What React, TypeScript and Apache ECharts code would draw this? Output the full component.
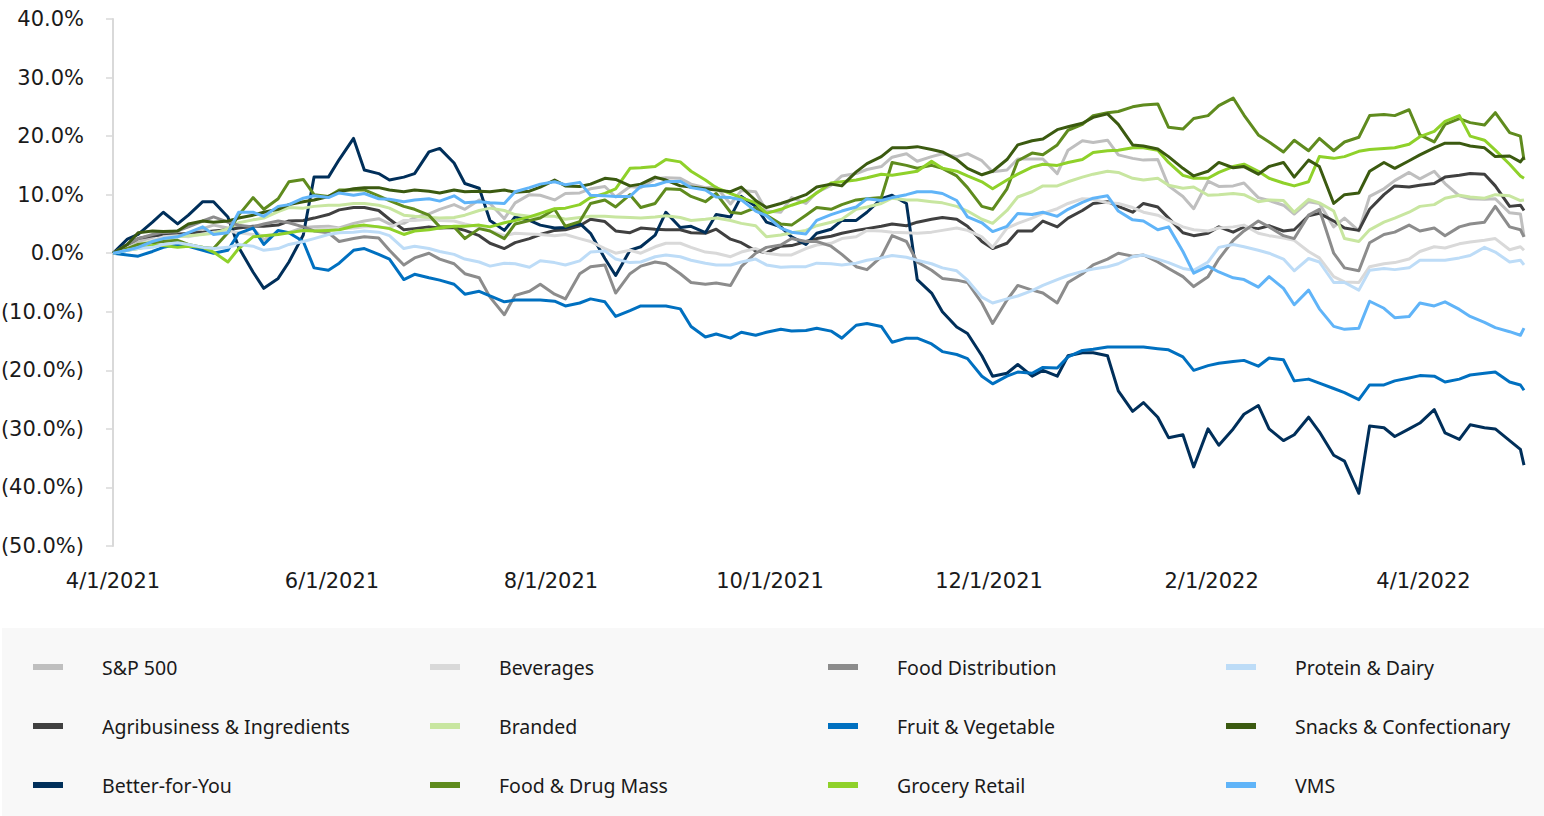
import React, { useEffect, useRef } from "react";
import * as echarts from "echarts";

// Sample dates (Mondays/Thursdays) from 4/1/2021 to 4/29/2022
const dates = [
  "2021-04-01","2021-04-05","2021-04-08","2021-04-12","2021-04-15","2021-04-19","2021-04-22","2021-04-26","2021-04-29",
  "2021-05-03","2021-05-06","2021-05-10","2021-05-13","2021-05-17","2021-05-20","2021-05-24","2021-05-27","2021-05-31",
  "2021-06-03","2021-06-07","2021-06-10","2021-06-14","2021-06-17","2021-06-21","2021-06-24","2021-06-28",
  "2021-07-01","2021-07-05","2021-07-08","2021-07-12","2021-07-15","2021-07-19","2021-07-22","2021-07-26","2021-07-29",
  "2021-08-02","2021-08-05","2021-08-09","2021-08-12","2021-08-16","2021-08-19","2021-08-23","2021-08-26","2021-08-30",
  "2021-09-02","2021-09-06","2021-09-09","2021-09-13","2021-09-16","2021-09-20","2021-09-23","2021-09-27","2021-09-30",
  "2021-10-04","2021-10-07","2021-10-11","2021-10-14","2021-10-18","2021-10-21","2021-10-25","2021-10-28",
  "2021-11-01","2021-11-04","2021-11-08","2021-11-11","2021-11-15","2021-11-18","2021-11-22","2021-11-25","2021-11-29",
  "2021-12-02","2021-12-06","2021-12-09","2021-12-13","2021-12-16","2021-12-20","2021-12-23","2021-12-27","2021-12-30",
  "2022-01-03","2022-01-06","2022-01-10","2022-01-13","2022-01-17","2022-01-20","2022-01-24","2022-01-27","2022-01-31",
  "2022-02-03","2022-02-07","2022-02-10","2022-02-14","2022-02-17","2022-02-21","2022-02-24","2022-02-28",
  "2022-03-03","2022-03-07","2022-03-10","2022-03-14","2022-03-17","2022-03-21","2022-03-24","2022-03-28","2022-03-31",
  "2022-04-04","2022-04-07","2022-04-11","2022-04-14","2022-04-18","2022-04-21","2022-04-25","2022-04-28","2022-04-29",
];

const tickDates = ["2021-04-01","2021-06-01","2021-08-01","2021-10-01","2021-12-01","2022-02-01","2022-04-01"];

const sp500 = [
  0,1.4,1.9,2.7,3.7,3.6,2.9,4.2,4.8,
  4.3,4.5,4.2,2.3,3.6,3.5,4.4,4.5,4.6,
  4.3,5.1,5.5,5.9,5.0,5.1,6.1,6.7,
  7.5,8.3,7.5,9.1,8.5,5.9,8.6,10.0,9.9,
  9.1,10.2,10.3,11.0,11.4,9.6,11.4,11.2,12.7,
  12.9,12.8,11.8,11.2,11.3,8.4,10.7,10.5,7.2,
  7.0,9.5,8.5,10.4,11.6,13.2,13.6,14.3,
  14.8,16.4,17.0,15.7,16.5,17.0,16.5,17.0,15.8,
  13.9,14.2,16.1,16.1,16.1,13.6,17.6,19.2,18.9,
  19.3,16.8,16.2,15.9,16.0,11.5,9.7,7.6,12.3,
  11.4,11.5,12.0,9.5,9.0,8.2,6.7,8.8,
  8.5,4.5,6.0,3.8,9.7,11.0,12.4,13.8,12.7,
  14.0,11.9,9.8,9.3,9.2,9.3,6.9,6.7,2.8,
];

const agribusiness = [
  0,1.5,2.5,3.0,3.1,3.2,3.4,3.6,3.8,
  4.0,4.3,4.6,4.6,4.8,5.5,5.6,6.0,6.6,
  7.4,7.8,7.8,7.3,5.8,4.0,4.2,4.5,
  4.3,4.4,3.9,3.0,1.7,0.8,1.8,2.5,3.2,
  3.9,4.0,4.7,5.8,5.4,3.8,3.5,4.3,4.1,
  4.0,4.0,3.5,3.4,4.1,2.4,1.8,0.4,0.1,
  1.2,1.3,2.0,2.5,2.9,3.4,3.9,4.2,
  4.6,5.0,4.7,5.3,5.8,6.1,5.8,4.6,2.0,
  0.8,1.7,3.8,3.8,5.5,4.5,6.0,7.3,8.5,
  8.8,8.0,7.0,8.5,7.9,6.0,3.5,3.0,3.4,
  4.5,3.6,4.5,4.2,4.7,3.8,4.0,6.4,
  6.8,5.5,4.3,3.9,7.5,10.0,11.5,11.3,11.6,
  11.9,13.0,13.3,13.6,13.5,11.5,8.0,8.2,7.3,
];

const betterForYou = [
  0,2.4,3.2,5.3,7.0,5.0,6.5,8.8,8.8,
  6.2,1.0,-3.2,-6.0,-4.3,-1.5,3.1,13.0,13.0,
  16.0,19.6,14.2,13.6,12.5,13.0,13.6,17.3,
  17.9,15.4,11.9,11.1,5.6,3.9,6.2,5.6,4.8,
  4.3,4.4,5.1,3.4,-0.9,-3.8,0.5,1.1,3.1,
  7.0,4.4,4.6,3.5,6.6,6.2,9.7,8.0,5.3,
  4.5,2.8,1.5,3.4,4.1,5.6,5.6,7.0,
  9.3,9.9,8.5,-4.5,-6.8,-10.0,-12.6,-13.7,-17.5,
  -21.0,-20.5,-19.0,-21.0,-20.0,-21.0,-17.5,-17.0,-17.0,
  -17.5,-23.5,-27.0,-25.5,-28.0,-31.5,-31.0,-36.5,-30.0,
  -32.8,-30.0,-27.5,-26.0,-30.0,-32.0,-31.0,-28.0,
  -30.5,-34.5,-35.5,-41.0,-29.5,-29.8,-31.3,-30.0,-29.0,
  -26.7,-30.7,-31.8,-29.3,-29.8,-30.0,-32.0,-33.5,-36.2,
];

const beverages = [
  0,1.0,1.5,2.2,2.8,3.0,2.8,3.3,3.6,
  3.8,3.5,3.2,3.0,3.3,3.6,3.8,4.0,4.2,
  4.2,4.3,4.5,4.5,4.3,5.6,5.6,5.8,
  5.6,5.5,5.0,4.5,3.8,3.0,3.4,3.3,3.2,
  3.0,3.2,2.5,2.0,0.8,0.0,0.5,0.0,1.1,
  1.7,1.7,1.0,0.2,0.0,-0.6,0.2,0.8,0.0,
  -0.3,-0.3,0.8,1.4,1.7,2.5,2.8,3.9,
  3.8,3.6,3.5,3.4,3.6,3.9,4.3,3.9,2.8,
  1.0,4.3,5.1,6.0,6.8,7.6,8.5,9.3,9.2,
  8.6,8.5,7.8,7.0,6.5,5.6,4.5,4.0,3.8,
  4.3,4.5,4.8,3.4,3.0,2.6,2.2,0.3,
  -0.8,-4.0,-4.9,-5.0,-2.3,-1.8,-1.6,-1.0,0.3,
  1.1,0.9,1.6,1.9,2.2,2.5,0.6,1.1,0.5,
];

const branded = [
  0,0.8,1.5,2.0,2.4,2.8,3.0,3.2,3.4,
  4.2,5.2,5.7,6.0,7.1,7.8,7.7,8.0,8.2,
  8.2,8.5,8.5,8.2,7.7,6.5,6.3,6.1,
  6.0,6.1,6.5,7.3,7.7,7.3,6.6,6.3,6.3,
  6.3,5.8,6.1,6.3,6.3,6.2,6.1,6.0,6.2,
  6.4,6.1,5.6,5.8,6.0,5.6,5.1,4.7,2.8,
  3.1,3.5,3.9,4.7,5.3,5.8,7.5,7.9,
  8.5,9.4,9.1,9.1,8.8,8.6,8.0,7.2,5.8,
  5.1,7.3,9.6,10.5,11.5,11.5,12.2,13.0,13.5,
  14.0,13.8,12.8,12.5,12.8,11.6,11.1,11.3,9.9,
  10.0,10.2,10.0,8.8,9.1,9.0,7.0,9.2,
  8.6,7.2,2.5,2.0,4.0,5.3,6.0,7.0,8.0,
  8.3,9.4,9.9,9.6,9.4,10.0,9.8,9.0,9.1,
];

const foodDrugMass = [
  0,0.8,1.5,1.8,2.0,2.2,1.5,1.0,0.8,
  3.5,6.5,9.5,7.5,9.3,12.2,12.6,10.0,9.7,
  10.8,10.8,10.8,9.8,9.0,8.0,7.5,6.5,
  4.5,4.5,2.5,4.2,3.8,2.5,5.0,5.6,6.0,
  7.5,4.6,5.4,8.5,9.1,7.9,10.0,7.8,8.5,
  11.0,10.9,9.7,8.8,10.2,7.0,6.8,7.8,6.5,
  5.0,4.8,6.5,7.8,7.5,8.3,9.1,9.3,
  9.5,15.5,15.0,14.5,15.0,14.5,13.2,11.2,8.0,
  7.5,11.0,15.8,17.1,16.8,18.5,21.0,22.0,23.5,
  24.0,24.2,25.0,25.3,25.5,21.5,21.2,23.0,23.5,
  25.2,26.5,23.6,20.2,19.0,17.3,19.3,17.5,
  19.6,17.5,19.0,19.8,23.5,23.7,23.5,24.5,20.2,
  19.0,22.0,23.0,22.3,21.9,24.0,20.6,20.0,15.9,
];

const foodDistribution = [
  0,1.5,2.5,3.2,3.6,3.8,4.5,5.5,6.2,
  5.3,4.8,4.5,5.0,5.5,5.2,4.5,3.8,3.5,
  2.0,2.5,2.8,2.6,0.5,-2.0,-0.8,0.0,
  -1.0,-1.8,-3.5,-4.2,-7.5,-10.5,-7.2,-6.5,-5.3,
  -7.0,-7.8,-3.5,-2.3,-2.0,-6.8,-3.5,-2.2,-1.5,
  -1.8,-3.5,-5.0,-5.3,-5.1,-5.5,-2.3,0.0,1.0,
  1.4,2.5,2.0,2.0,1.2,-0.2,-2.3,-2.8,
  -0.6,3.0,2.0,-1.5,-2.9,-4.3,-4.6,-5.0,-8.5,
  -12.0,-8.0,-5.5,-6.3,-6.8,-8.5,-5.0,-3.5,-2.0,
  -1.0,0.0,-0.5,-0.3,-1.5,-2.6,-4.0,-5.7,-4.0,
  -1.0,2.2,3.8,5.5,4.5,3.0,2.5,6.5,
  7.5,0.0,-2.5,-3.0,1.8,3.2,3.6,4.8,3.8,
  4.3,3.0,4.5,5.0,5.3,8.0,4.5,4.0,2.8,
];

const fruitVegetable = [
  0,-0.3,-0.5,0.3,1.0,1.5,1.2,0.5,0.0,
  0.5,3.4,4.3,1.5,3.9,3.5,2.0,-2.5,-2.9,
  -1.7,0.5,0.8,-0.2,-1.0,-4.5,-3.6,-4.2,
  -4.6,-5.3,-7.0,-6.5,-7.3,-8.3,-8.0,-8.0,-8.0,
  -8.2,-9.0,-8.5,-7.8,-8.3,-10.8,-9.8,-9.0,-9.0,
  -9.0,-9.5,-12.5,-14.3,-13.8,-14.5,-13.5,-14.0,-13.5,
  -13.0,-13.3,-13.2,-12.8,-13.3,-14.5,-12.3,-12.0,
  -12.5,-15.2,-14.5,-14.5,-15.5,-16.8,-17.3,-18.0,-21.0,
  -22.3,-21.0,-20.3,-20.5,-19.5,-19.6,-17.7,-16.6,-16.4,
  -16.0,-16.0,-16.0,-16.0,-16.3,-16.5,-17.7,-20.0,-19.2,
  -18.8,-18.5,-18.3,-19.3,-17.9,-18.2,-21.8,-21.5,
  -22.2,-23.1,-23.8,-25.0,-22.5,-22.5,-21.8,-21.3,-20.9,
  -21.0,-22.0,-21.5,-20.8,-20.5,-20.3,-22.0,-22.5,-23.4,
];

const groceryRetail = [
  0,0.5,0.8,1.3,1.3,1.0,1.2,1.0,0.2,
  -1.5,0.8,2.8,3.0,3.2,3.5,3.9,3.8,3.9,
  4.0,4.6,4.8,4.5,4.2,3.2,3.8,4.0,
  4.3,4.6,4.6,4.8,4.5,5.2,5.6,6.2,6.8,
  7.6,7.7,8.3,9.5,10.2,11.0,14.5,14.6,14.8,
  16.0,15.6,14.0,12.5,11.2,10.2,9.5,8.6,6.8,
  7.5,8.2,9.0,10.3,12.0,12.2,12.5,12.9,
  13.5,13.3,13.7,14.0,15.7,14.5,14.0,13.2,12.2,
  11.0,12.5,13.5,14.7,15.2,15.0,15.5,16.0,17.2,
  17.5,17.6,18.0,18.0,17.6,15.5,13.3,12.8,12.8,
  13.8,14.8,15.2,14.0,12.8,12.0,11.5,12.2,
  16.5,16.2,16.5,17.4,17.7,17.9,18.0,18.6,19.9,
  20.8,22.5,23.5,20.0,19.3,17.6,15.2,13.2,12.8,
];

const proteinDairy = [
  0,0.5,0.8,1.0,1.5,1.8,1.5,1.0,0.8,
  1.0,1.5,1.2,0.5,0.8,1.5,2.0,2.5,3.2,
  3.5,3.6,3.8,3.6,3.0,0.8,1.2,0.8,
  0.3,-0.2,-1.0,-1.5,-2.2,-1.7,-1.8,-2.4,-1.3,
  -1.6,-2.0,-1.3,0.2,0.4,-1.0,-1.6,-1.5,-0.6,
  -0.3,-0.6,-1.2,-1.7,-2.0,-2.0,-1.5,-1.0,-2.0,
  -2.4,-2.3,-2.3,-1.7,-1.8,-2.0,-1.7,-1.2,
  -0.8,-0.4,-0.7,-1.2,-1.8,-2.5,-3.0,-4.6,-7.5,
  -8.5,-7.8,-7.3,-6.4,-5.5,-4.5,-3.8,-3.1,-2.7,
  -2.3,-1.8,-0.6,-0.3,-1.0,-1.6,-2.6,-2.9,-1.5,
  1.0,1.5,1.1,0.5,0.0,-1.0,-3.0,-0.9,
  -1.5,-5.0,-5.0,-6.3,-2.9,-2.6,-2.8,-2.5,-1.2,
  -1.2,-1.2,-0.8,-0.4,1.0,0.2,-1.5,-1.2,-2.0,
];

const snacksConfectionary = [
  0,1.5,3.5,3.8,3.7,3.8,5.0,5.5,5.3,
  5.5,6.0,6.5,7.0,7.5,8.3,8.8,9.1,9.7,
  10.5,11.0,11.2,11.2,10.8,10.5,10.8,10.6,
  10.3,10.8,10.5,10.6,10.5,10.8,10.4,10.6,11.3,
  12.5,11.5,11.4,11.8,12.8,12.6,11.5,11.8,13.0,
  12.5,11.5,11.3,11.0,10.8,10.5,11.3,9.0,7.8,
  8.5,9.1,10.0,11.3,11.8,11.5,13.9,15.3,
  16.5,18.0,18.0,18.2,17.7,17.3,16.0,14.5,13.4,
  14.0,16.0,18.5,19.2,19.5,21.1,21.6,22.2,23.2,
  23.8,22.0,18.5,18.3,17.8,16.5,14.5,13.2,14.0,
  15.5,14.6,14.8,13.5,14.8,15.5,13.0,15.9,
  14.8,8.5,10.0,10.3,14.0,15.5,14.5,15.8,16.8,
  18.0,18.8,18.8,18.3,18.0,16.5,16.6,15.6,16.4,
];

const vms = [
  0,0.5,1.0,2.0,2.5,2.8,3.5,4.5,3.2,
  3.5,7.0,7.0,6.3,8.0,8.3,9.4,9.8,9.5,
  10.3,9.9,10.2,9.3,9.2,8.8,9.1,9.3,
  8.9,9.8,8.6,8.8,8.6,8.5,10.5,11.2,11.8,
  12.2,11.7,12.1,9.9,9.8,9.7,9.7,11.4,11.6,
  12.2,12.3,11.2,10.8,9.6,9.5,9.1,7.2,6.4,
  4.3,3.6,3.3,5.6,6.6,7.2,7.9,9.3,
  9.0,9.5,10.0,10.5,10.5,10.2,9.0,6.2,5.2,
  3.7,4.6,6.8,6.6,7.0,6.3,7.5,8.7,9.4,
  9.8,7.2,5.7,5.5,4.0,4.5,0.3,-3.4,-2.2,
  -3.2,-4.2,-4.5,-5.8,-4.0,-6.0,-8.8,-6.3,
  -9.5,-12.5,-13.0,-12.8,-8.2,-9.4,-11.0,-10.8,-8.5,
  -9.0,-8.3,-9.6,-10.8,-11.8,-12.7,-13.4,-14.0,-12.8,
];

const seriesNames = [
  "S&P 500", "Agribusiness & Ingredients", "Better-for-You", "Beverages",
  "Branded", "Food & Drug Mass", "Food Distribution", "Fruit & Vegetable",
  "Grocery Retail", "Protein & Dairy", "Snacks & Confectionary", "VMS",
];
const seriesValues = [
  sp500, agribusiness, betterForYou, beverages, branded, foodDrugMass,
  foodDistribution, fruitVegetable, groceryRetail, proteinDairy, snacksConfectionary, vms,
];
const seriesColors = [
  "#BFBFBF", "#404040", "#002F5A", "#D9D9D9", "#C8E6A0", "#5F8B1E",
  "#8C8C8C", "#0070C0", "#8FD12A", "#BDDCF7", "#3B5A10", "#60B4F8",
];

const legendRows = [
  ["S&P 500", "Beverages", "Food Distribution", "Protein & Dairy"],
  ["Agribusiness & Ingredients", "Branded", "Fruit & Vegetable", "Snacks & Confectionary"],
  ["Better-for-You", "Food & Drug Mass", "Grocery Retail", "VMS"],
];

const ts = (s: string) => {
  const [y, m, d] = s.split("-").map(Number);
  return Date.UTC(y, m - 1, d);
};

const AXIS_FONT = "'DejaVu Sans', sans-serif";
const LEGEND_FONT = "'Noto Sans', sans-serif";

export default function App() {
  const ref = useRef<HTMLDivElement>(null);

  useEffect(() => {
    document.body.style.margin = "0";
    if (!ref.current) return;
    const chart = echarts.init(ref.current, undefined, { renderer: "svg" });

    const xs = dates.map(ts);
    const series = seriesNames.map((name, i) => ({
      name,
      type: "line",
      data: seriesValues[i].map((v, j) => [xs[j], v]),
      showSymbol: false,
      symbol: "none",
      lineStyle: { color: seriesColors[i], width: 3, join: "round" },
      itemStyle: { color: seriesColors[i] },
      emphasis: { disabled: true },
      silent: true,
    }));

    const colLeft = [33, 430, 828, 1226];
    const rowY = [668, 727, 786];
    const legends: any[] = [];
    legendRows.forEach((row, r) => {
      row.forEach((name, c) => {
        legends.push({
          data: [name],
          left: colLeft[c],
          top: rowY[r] - 11,
          icon: "rect",
          itemWidth: 30,
          itemHeight: 6,
          padding: 0,
          selectedMode: false,
          textStyle: {
            fontFamily: LEGEND_FONT,
            fontSize: 19.5,
            color: "#1a1a1a",
            padding: [0, 0, 0, 34],
          },
        });
      });
    });

    chart.setOption({
      animation: false,
      backgroundColor: "#ffffff",
      grid: {
        left: 113,
        right: 20,
        top: 19,
        bottom: 270,
        containLabel: false,
        outerBoundsMode: "none",
      },
      xAxis: {
        type: "value",
        min: ts("2021-04-01"),
        max: ts("2022-04-29"),
        axisLine: { show: false },
        axisTick: { show: false },
        splitLine: { show: false },
        axisLabel: {
          customValues: tickDates.map(ts),
          margin: 24,
          fontFamily: AXIS_FONT,
          fontSize: 21,
          color: "#1a1a1a",
          formatter: (v: number) => {
            const d = new Date(v);
            return `${d.getUTCMonth() + 1}/${d.getUTCDate()}/${d.getUTCFullYear()}`;
          },
        },
      },
      yAxis: {
        type: "value",
        min: -50,
        max: 40,
        interval: 10,
        axisLine: { show: true, lineStyle: { color: "#D9D9D9", width: 2 } },
        axisTick: { show: true, length: 7, lineStyle: { color: "#D9D9D9", width: 1.5 } },
        splitLine: { show: false },
        axisLabel: {
          margin: 29,
          fontFamily: AXIS_FONT,
          fontSize: 21,
          color: "#1a1a1a",
          formatter: (v: number) =>
            v < 0 ? `(${Math.abs(v).toFixed(1)}%)` : `${v.toFixed(1)}%`,
        },
      },
      graphic: [
        {
          type: "rect",
          left: 2,
          top: 628,
          z: -1,
          shape: { width: 1542, height: 188 },
          style: { fill: "#F8F8F8" },
          silent: true,
        },
      ],
      legend: legends,
      series,
    });

    return () => chart.dispose();
  }, []);

  return (
    <div
      ref={ref}
      style={{ position: "absolute", left: 0, top: 0, width: 1544, height: 816 }}
    />
  );
}
